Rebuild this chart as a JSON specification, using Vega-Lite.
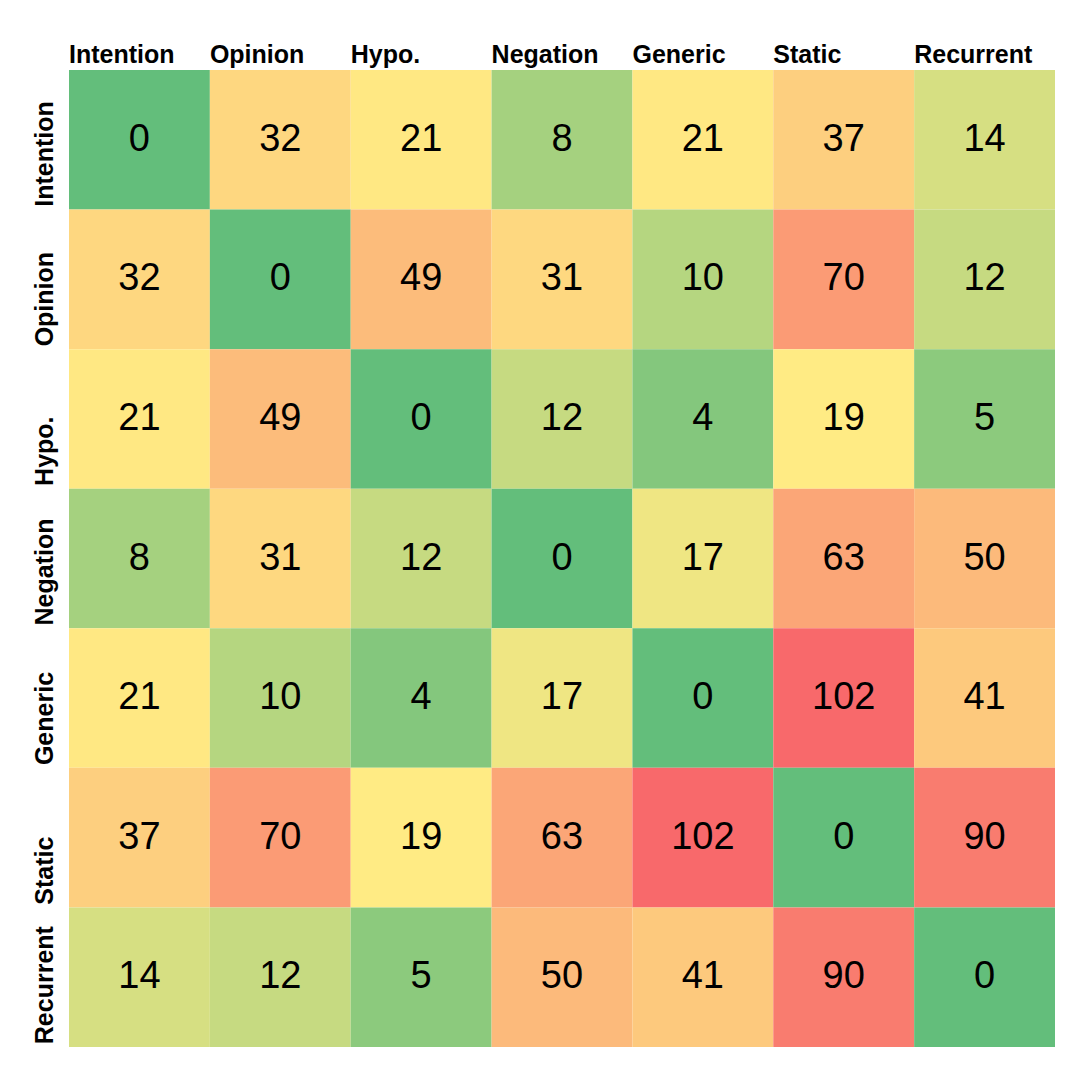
{
  "$schema": "https://vega.github.io/schema/vega-lite/v6.json",
  "width": 986,
  "height": 977,
  "padding": {"left": 69, "top": 70, "right": 25, "bottom": 33},
  "autosize": {"type": "none"},
  "background": "white",
  "config": {"view": {"stroke": null}, "font": "Liberation Sans"},
  "data": {"values": [
    {"row": "Intention", "col": "Intention", "v": 0},
    {"row": "Intention", "col": "Opinion", "v": 32},
    {"row": "Intention", "col": "Hypo.", "v": 21},
    {"row": "Intention", "col": "Negation", "v": 8},
    {"row": "Intention", "col": "Generic", "v": 21},
    {"row": "Intention", "col": "Static", "v": 37},
    {"row": "Intention", "col": "Recurrent", "v": 14},
    {"row": "Opinion", "col": "Intention", "v": 32},
    {"row": "Opinion", "col": "Opinion", "v": 0},
    {"row": "Opinion", "col": "Hypo.", "v": 49},
    {"row": "Opinion", "col": "Negation", "v": 31},
    {"row": "Opinion", "col": "Generic", "v": 10},
    {"row": "Opinion", "col": "Static", "v": 70},
    {"row": "Opinion", "col": "Recurrent", "v": 12},
    {"row": "Hypo.", "col": "Intention", "v": 21},
    {"row": "Hypo.", "col": "Opinion", "v": 49},
    {"row": "Hypo.", "col": "Hypo.", "v": 0},
    {"row": "Hypo.", "col": "Negation", "v": 12},
    {"row": "Hypo.", "col": "Generic", "v": 4},
    {"row": "Hypo.", "col": "Static", "v": 19},
    {"row": "Hypo.", "col": "Recurrent", "v": 5},
    {"row": "Negation", "col": "Intention", "v": 8},
    {"row": "Negation", "col": "Opinion", "v": 31},
    {"row": "Negation", "col": "Hypo.", "v": 12},
    {"row": "Negation", "col": "Negation", "v": 0},
    {"row": "Negation", "col": "Generic", "v": 17},
    {"row": "Negation", "col": "Static", "v": 63},
    {"row": "Negation", "col": "Recurrent", "v": 50},
    {"row": "Generic", "col": "Intention", "v": 21},
    {"row": "Generic", "col": "Opinion", "v": 10},
    {"row": "Generic", "col": "Hypo.", "v": 4},
    {"row": "Generic", "col": "Negation", "v": 17},
    {"row": "Generic", "col": "Generic", "v": 0},
    {"row": "Generic", "col": "Static", "v": 102},
    {"row": "Generic", "col": "Recurrent", "v": 41},
    {"row": "Static", "col": "Intention", "v": 37},
    {"row": "Static", "col": "Opinion", "v": 70},
    {"row": "Static", "col": "Hypo.", "v": 19},
    {"row": "Static", "col": "Negation", "v": 63},
    {"row": "Static", "col": "Generic", "v": 102},
    {"row": "Static", "col": "Static", "v": 0},
    {"row": "Static", "col": "Recurrent", "v": 90},
    {"row": "Recurrent", "col": "Intention", "v": 14},
    {"row": "Recurrent", "col": "Opinion", "v": 12},
    {"row": "Recurrent", "col": "Hypo.", "v": 5},
    {"row": "Recurrent", "col": "Negation", "v": 50},
    {"row": "Recurrent", "col": "Generic", "v": 41},
    {"row": "Recurrent", "col": "Static", "v": 90},
    {"row": "Recurrent", "col": "Recurrent", "v": 0}
  ]},
  "encoding": {
    "x": {"field": "col", "type": "nominal",
      "sort": ["Intention", "Opinion", "Hypo.", "Negation", "Generic", "Static", "Recurrent"],
      "scale": {"paddingInner": 0, "paddingOuter": 0},
      "axis": {"orient": "top", "title": null, "domain": false, "ticks": false, "labelAngle": 0,
        "labelOffset": -70.4, "labelAlign": "left", "labelBaseline": "alphabetic", "labelPadding": 8,
        "labelFont": "Liberation Sans", "labelFontWeight": "bold", "labelFontSize": 25, "labelColor": "black"}},
    "y": {"field": "row", "type": "nominal",
      "sort": ["Intention", "Opinion", "Hypo.", "Negation", "Generic", "Static", "Recurrent"],
      "scale": {"paddingInner": 0, "paddingOuter": 0},
      "axis": {"title": null, "domain": false, "ticks": false, "labelAngle": 270,
        "labelOffset": 67, "labelAlign": "left", "labelBaseline": "bottom", "labelPadding": 12,
        "labelFont": "Liberation Sans", "labelFontWeight": "bold", "labelFontSize": 25, "labelColor": "black"}}
  },
  "layer": [
    {"mark": {"type": "rect"},
      "encoding": {"color": {"field": "v", "type": "quantitative", "legend": null,
        "scale": {"type": "linear", "domain": [0, 19, 102], "range": ["#63BE7B", "#FFEB84", "#F8696B"], "interpolate": "rgb"}}}},
    {"mark": {"type": "text", "fontSize": 38, "font": "Liberation Sans", "color": "black", "baseline": "middle"},
      "encoding": {"text": {"field": "v", "type": "quantitative"}}}
  ]
}
